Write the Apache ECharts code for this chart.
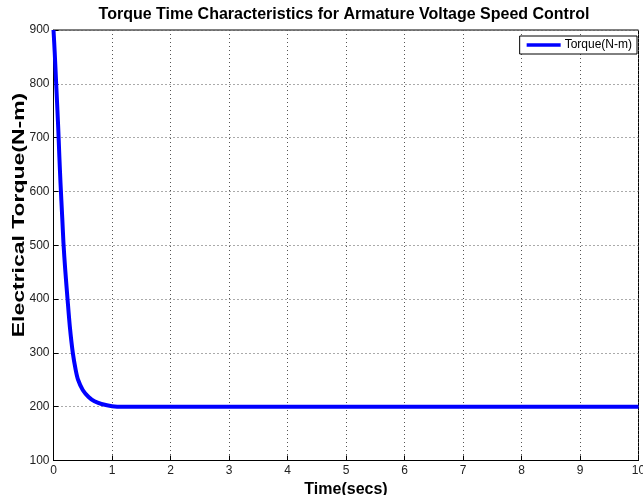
<!DOCTYPE html>
<html>
<head>
<meta charset="utf-8">
<script src="https://cdn.jsdelivr.net/npm/echarts@6/dist/echarts.min.js"></script>
<style>
html,body{margin:0;padding:0;background:#fff;}
#c{width:643px;height:495px;}
</style>
</head>
<body>
<div id="c"></div>
<script>
var timeSecs = [0, 0.02, 0.05, 0.08, 0.1, 0.12, 0.15, 0.17, 0.2, 0.24, 0.28, 0.33, 0.38, 0.42, 0.5, 0.6, 0.7, 0.82, 1.0, 1.2, 2, 4, 6, 8, 10];
var torque   = [900, 860, 790, 720, 665, 615, 550, 505, 455, 400, 348, 300, 268, 250, 231, 218, 210, 205, 201, 200, 200, 200, 200, 200, 200];
var xTicks = [0,1,2,3,4,5,6,7,8,9,10];
var yTicks = [100,200,300,400,500,600,700,800,900];
var titleText = 'Torque Time Characteristics for Armature Voltage Speed Control';
var xName = 'Time(secs)';
var yName = 'Electrical Torque(N-m)';
var seriesName = 'Torque(N-m)';

var pts = timeSecs.map(function(t,i){return [t, torque[i]];});
var chart = echarts.init(document.getElementById('c'));
var font = 'Liberation Sans, Arial, sans-serif';
chart.setOption({
  animation:false,
  backgroundColor:'#fff',
  title:{
    text:titleText,
    left:339, top:2, textAlign:'center',
    textStyle:{fontFamily:font,fontSize:16,fontWeight:'bold',color:'#000'}
  },
  legend:{
    data:[seriesName],
    right:6, top:36,
    backgroundColor:'#fff',
    borderColor:'#000', borderWidth:1,
    padding:[3,5,3,7],
    itemWidth:34, itemHeight:3.5, itemGap:3,
    icon:'rect',
    textStyle:{fontFamily:font,fontSize:12,color:'#000',padding:[0,0,0,-1]}
  },
  graphic:[{
    type:'text',
    x:19, y:215,
    rotation:Math.PI/2,
    scaleX:1.35,
    style:{text:yName, fill:'#000', font:'bold 17px Liberation Sans, Arial, sans-serif', textAlign:'center', textVerticalAlign:'middle'}
  }],
  grid:{left:53.5,right:4.5,top:30,bottom:34.5,show:true,borderColor:'#000',borderWidth:1,backgroundColor:'#fff',outerBoundsMode:'none',containLabel:false},
  xAxis:{
    type:'value', min:xTicks[0], max:xTicks[xTicks.length-1], interval:1,
    name:xName, nameLocation:'middle', nameGap:18,
    nameTextStyle:{fontFamily:font,fontSize:16,fontWeight:'bold',color:'#000'},
    axisLine:{show:true,lineStyle:{color:'#000',width:1}},
    axisTick:{show:true,inside:true,length:5,lineStyle:{color:'#000'}},
    axisLabel:{fontFamily:font,fontSize:12,color:'#222',margin:4},
    splitLine:{show:true,lineStyle:{color:'#555',type:[1,3],width:1}}
  },
  yAxis:{
    type:'value', min:yTicks[0], max:yTicks[yTicks.length-1], interval:100,
    axisLine:{show:true,lineStyle:{color:'#000',width:1}},
    axisTick:{show:true,inside:true,length:5,lineStyle:{color:'#000'}},
    axisLabel:{fontFamily:font,fontSize:12,color:'#222',margin:4},
    splitLine:{show:true,lineStyle:{color:'#555',type:[1,3],width:1}}
  },
  series:[{
    name:seriesName, type:'line', data:pts, smooth:0.3,
    showSymbol:false, symbol:'none',
    lineStyle:{color:'#0000ff',width:4},
    itemStyle:{color:'#0000ff'}
  }]
});
</script>
</body>
</html>
